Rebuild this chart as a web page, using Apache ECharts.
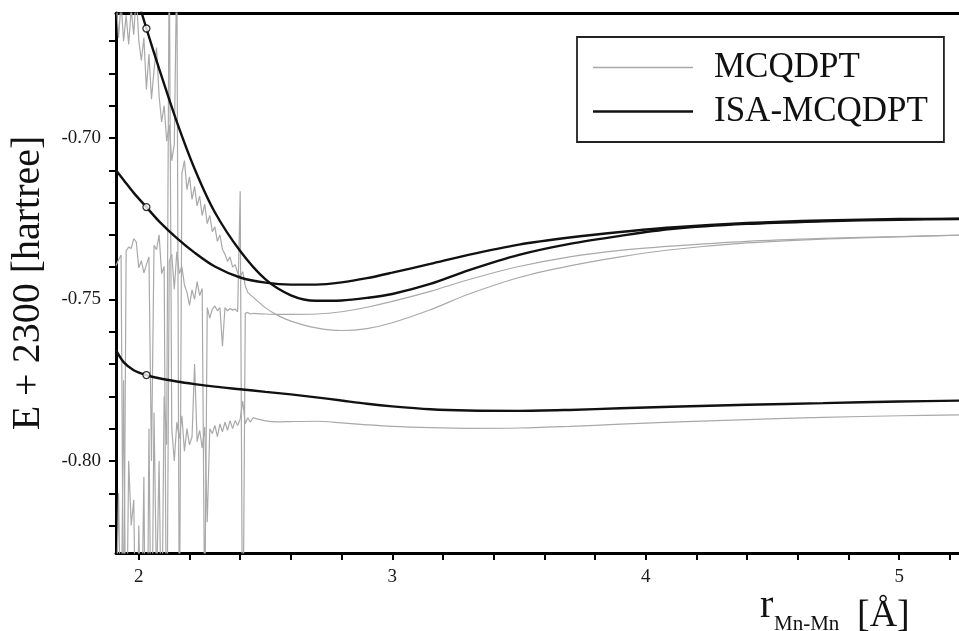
<!DOCTYPE html>
<html>
<head>
<meta charset="utf-8">
<script src="https://cdn.jsdelivr.net/npm/echarts@6/dist/echarts.min.js"></script>
<style>
  html, body { margin: 0; padding: 0; background: #fff; }
  #chart { width: 959px; height: 631px; }
</style>
</head>
<body>
<div id="chart"></div>
<script>
// Mn-Mn distance (Å) sample points for the smooth ISA-MCQDPT curves
const isaR = [1.91, 1.94, 1.98, 2.03, 2.08, 2.15, 2.22, 2.30, 2.40, 2.50, 2.60, 2.70, 2.80,
              2.90, 3.00, 3.15, 3.30, 3.50, 3.70, 3.90, 4.10, 4.40, 4.70, 5.00, 5.24];
// ISA-MCQDPT energies, E + 2300 (hartree), three states
const isaStateA = [-0.635, -0.643, -0.6531, -0.6661, -0.6785, -0.6950, -0.7095, -0.7230, -0.7350,
                   -0.7438, -0.7487, -0.7504, -0.7503, -0.7495, -0.7483, -0.7452, -0.7410, -0.7362,
                   -0.7328, -0.7303, -0.7282, -0.7266, -0.7258, -0.7253, -0.7251];
const isaStateB = [-0.7100, -0.7130, -0.7170, -0.7214, -0.7258, -0.7310, -0.7355, -0.7398, -0.7432,
                   -0.7448, -0.7454, -0.7454, -0.7447, -0.7434, -0.7417, -0.7390, -0.7362, -0.7330,
                   -0.7308, -0.7291, -0.7277, -0.7263, -0.7255, -0.7251, -0.7250];
const isaStateC = [-0.7657, -0.7694, -0.7719, -0.7734, -0.7744, -0.7754, -0.7762, -0.7770, -0.7778,
                   -0.7786, -0.7794, -0.7803, -0.7813, -0.7823, -0.7831, -0.7840, -0.7844, -0.7845,
                   -0.7842, -0.7837, -0.7832, -0.7826, -0.7821, -0.7816, -0.7813];

// Reference geometry marked on each ISA-MCQDPT curve
const markR = [2.03, 2.03, 2.03];
const markE = [-0.6661, -0.7214, -0.7734];

// MCQDPT, short-distance region where intruder states make the energies erratic
const rawR = [1.91, 1.92, 1.93, 1.94, 1.95, 1.96, 1.97, 1.98, 1.99, 2.00, 2.01, 2.02, 2.03, 2.04,
              2.05, 2.06, 2.07, 2.08, 2.09, 2.10, 2.11, 2.12, 2.13, 2.14, 2.15, 2.16, 2.17, 2.18,
              2.19, 2.20, 2.21, 2.22, 2.23, 2.24, 2.25, 2.26, 2.27, 2.28, 2.29, 2.30, 2.31, 2.32,
              2.33, 2.34, 2.35, 2.36, 2.37, 2.38, 2.39, 2.40, 2.41, 2.42, 2.43, 2.44, 2.45];
const rawStateA = [-0.6560, -0.6690, -0.6580, -0.6700, -0.6620, -0.6710, -0.6600, -0.6680, -0.6550,
                   -0.6700, -0.6760, -0.6690, -0.6850, -0.6740, -0.6880, -0.6790, -0.6720, -0.6870,
                   -0.6950, -0.6900, -0.7010, -0.6960, -0.7070, -0.7020, -0.6450, -0.8600, -0.7110,
                   -0.7070, -0.7160, -0.7120, -0.7190, -0.7150, -0.7210, -0.7180, -0.7240, -0.7205,
                   -0.7265, -0.7240, -0.7290, -0.7275, -0.7320, -0.7300, -0.7345, -0.7360, -0.7382,
                   -0.7368, -0.7400, -0.7392, -0.7418, -0.7430, -0.7414, -0.7458, -0.7478, -0.7486,
                   -0.7492];
const rawStateB = [-0.7395, -0.7378, -0.7362, -0.8600, -0.7350, -0.7338, -0.7342, -0.7312, -0.7322,
                   -0.7402, -0.7380, -0.7418, -0.7392, -0.7368, -0.8000, -0.7332, -0.7346, -0.7300,
                   -0.7420, -0.7398, -0.8700, -0.7382, -0.7360, -0.7468, -0.7352, -0.7420, -0.7398,
                   -0.7455, -0.7478, -0.7518, -0.7470, -0.7500, -0.7445, -0.7488, -0.7466, -0.8500,
                   -0.7525, -0.7558, -0.7530, -0.7520, -0.7535, -0.7525, -0.7645, -0.7525, -0.7535,
                   -0.7528, -0.7533, -0.7530, -0.7538, -0.7165, -0.8700, -0.7543, -0.7540, -0.7545,
                   -0.7543];
const rawStateC = [-0.8500, -0.8100, -0.8600, -0.7750, -0.8700, -0.8000, -0.8200, -0.8120, -0.8700,
                   -0.8200, -0.8600, -0.8050, -0.9000, -0.7900, -0.8700, -0.7850, -0.8400, -0.8000,
                   -0.8600, -0.7800, -0.7950, -0.6400, -0.7900, -0.8000, -0.7880, -0.7930, -0.7860,
                   -0.7970, -0.7900, -0.7950, -0.7925, -0.7700, -0.7940, -0.7905, -0.7960, -0.7895,
                   -0.8190, -0.7900, -0.7915, -0.7890, -0.7925, -0.7885, -0.7910, -0.7880, -0.7905,
                   -0.7875, -0.7900, -0.7875, -0.7890, -0.7870, -0.7815, -0.7885, -0.7866, -0.7880,
                   -0.7866];

// MCQDPT, smooth region at longer distances
const smoothR = [2.45, 2.50, 2.55, 2.60, 2.70, 2.80, 2.90, 3.00, 3.15, 3.30, 3.50, 3.70, 3.90,
                 4.10, 4.40, 4.70, 5.00, 5.24];
const mcqStateA = [-0.7492, -0.7526, -0.7550, -0.7567, -0.7588, -0.7596, -0.7590, -0.7572, -0.7532,
                   -0.7484, -0.7432, -0.7396, -0.7368, -0.7346, -0.7325, -0.7313, -0.7306, -0.7301];
const mcqStateB = [-0.7543, -0.7545, -0.7546, -0.7546, -0.7545, -0.7538, -0.7524, -0.7506, -0.7475,
                   -0.7439, -0.7398, -0.7368, -0.7348, -0.7335, -0.7320, -0.7311, -0.7305, -0.7301];
const mcqStateC = [-0.7866, -0.7876, -0.7879, -0.7878, -0.7877, -0.7882, -0.7888, -0.7893, -0.7897,
                   -0.7899, -0.7898, -0.7893, -0.7886, -0.7880, -0.7872, -0.7865, -0.7860, -0.7857];

// Axis ticks and labels
const xTicks = [2.0, 2.2, 2.4, 2.6, 2.8, 3.0, 3.2, 3.4, 3.6, 3.8, 4.0, 4.2, 4.4, 4.6, 4.8, 5.0, 5.2];
const xLabels = [2, 3, 4, 5];
const yTicks = [-0.82, -0.81, -0.80, -0.79, -0.78, -0.77, -0.76, -0.75, -0.74, -0.73, -0.72,
                -0.71, -0.70, -0.69, -0.68, -0.67];
const yLabels = [-0.80, -0.75, -0.70];

const pairs = (xs, ys) => xs.map((x, i) => [x, ys[i]]);

const SERIF = '"Liberation Serif", "Times New Roman", serif';
const GRAY = '#a9a9a9';
const BLACK = '#111111';

function grayLine(xs, ys, smooth) {
  return {
    type: 'line', name: 'MCQDPT', data: pairs(xs, ys),
    symbol: 'none', smooth: smooth ? 0.3 : false,
    lineStyle: { color: GRAY, width: 1.2 }, itemStyle: { color: GRAY },
    z: 2, silent: true
  };
}
function blackLine(ys) {
  return {
    type: 'line', name: 'ISA-MCQDPT', data: pairs(isaR, ys),
    symbol: 'none', smooth: 0.3,
    lineStyle: { color: BLACK, width: 2.4 }, itemStyle: { color: BLACK },
    z: 3, silent: true
  };
}

const chart = echarts.init(document.getElementById('chart'), null, { renderer: 'canvas' });
chart.setOption({
  animation: false,
  backgroundColor: '#fff',
  grid: { left: 116, right: 0, top: 13, bottom: 78, containLabel: false },
  legend: {
    data: [
      { name: 'MCQDPT', icon: 'path://M0,0H100V1.3H0Z' },
      { name: 'ISA-MCQDPT', icon: 'path://M0,0H100V2.4H0Z' }
    ],
    orient: 'vertical', left: 577, top: 37,
    padding: [13, 16, 13, 16],
    itemWidth: 100, itemHeight: 14, itemGap: 9,
    symbolKeepAspect: true,
    borderColor: '#222', borderWidth: 1.8, backgroundColor: '#fff',
    textStyle: { fontFamily: SERIF, fontSize: 35, color: '#111', padding: [0, 0, 0, 16] },
    selectedMode: false
  },
  xAxis: [{
    type: 'value', min: 1.91, max: 5.236, position: 'bottom',
    axisLine: { onZero: false, lineStyle: { color: '#000', width: 3 } },
    axisTick: { customValues: xTicks, length: 7, lineStyle: { color: '#000', width: 2 } },
    axisLabel: { customValues: xLabels, formatter: v => String(Math.round(v)),
                 fontFamily: SERIF, fontSize: 19, color: '#1a1a1a', margin: 15 },
    splitLine: { show: false }
  }, {
    type: 'value', min: 1.91, max: 5.236, position: 'top',
    axisLine: { onZero: false, lineStyle: { color: '#000', width: 3 } },
    axisTick: { show: false }, axisLabel: { show: false }, splitLine: { show: false }
  }],
  yAxis: {
    type: 'value', min: -0.8285, max: -0.6613,
    axisLine: { show: true, onZero: false, lineStyle: { color: '#000', width: 3 } },
    axisTick: { show: true, customValues: yTicks, length: 7, lineStyle: { color: '#000', width: 2 } },
    axisLabel: { customValues: yLabels, formatter: v => v.toFixed(2),
                 fontFamily: SERIF, fontSize: 19, color: '#1a1a1a', margin: 15 },
    splitLine: { show: false },
    name: 'E + 2300 [hartree]', nameLocation: 'middle', nameRotate: 90, nameGap: 68,
    nameTextStyle: { fontFamily: SERIF, fontSize: 40, color: '#111' }
  },
  graphic: [
    { type: 'text', x: 760, y: 626, z: 10,
      style: { text: 'r', font: '40px ' + SERIF, fill: '#111', verticalAlign: 'bottom' } },
    { type: 'text', x: 774, y: 635, z: 10,
      style: { text: 'Mn-Mn', font: '21px ' + SERIF, fill: '#111', verticalAlign: 'bottom' } },
    { type: 'text', x: 857, y: 635, z: 10,
      style: { text: '[Å]', font: '38px ' + SERIF, fill: '#111', verticalAlign: 'bottom' } }
  ],
  series: [
    grayLine(rawR, rawStateA, false),
    grayLine(rawR, rawStateB, false),
    grayLine(rawR, rawStateC, false),
    grayLine(smoothR, mcqStateA, true),
    grayLine(smoothR, mcqStateB, true),
    grayLine(smoothR, mcqStateC, true),
    blackLine(isaStateA),
    blackLine(isaStateB),
    blackLine(isaStateC),
    {
      type: 'scatter', name: 'reference', data: pairs(markR, markE),
      symbol: 'circle', symbolSize: 7,
      itemStyle: { color: '#fff', borderColor: '#000', borderWidth: 1.3 },
      z: 5, silent: true
    }
  ]
});
</script>
</body>
</html>
